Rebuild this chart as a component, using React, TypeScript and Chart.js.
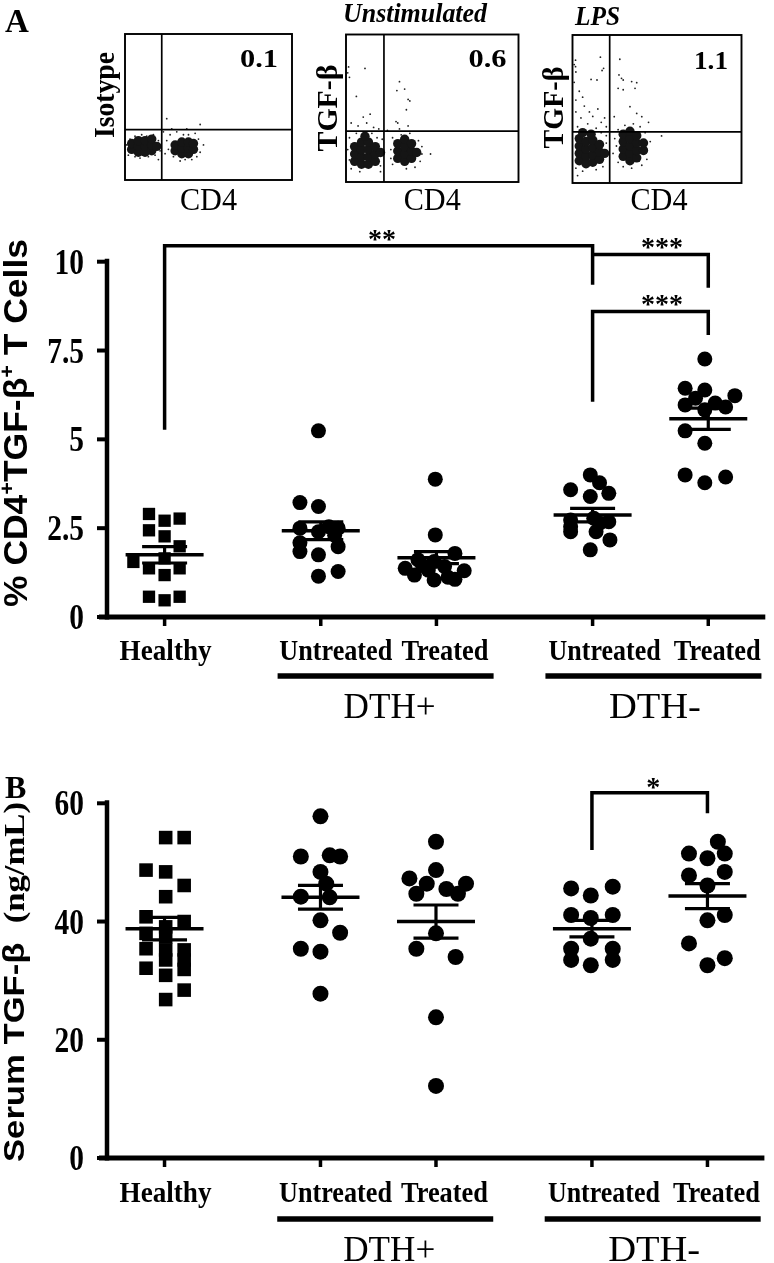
import React, { useEffect, useRef } from 'react';
import { Chart, registerables } from 'chart.js';

Chart.register(...registerables);

const W = 774;
const H = 1263;
const SERIF = '"Liberation Serif", "Times New Roman", serif';
const SANS = '"Liberation Sans", Arial, sans-serif';

// ---------------- Panel A: flow cytometry dot plots (CD4 vs TGF-beta, 0-100 display units) ----------------
const flowTitles = ['', 'Unstimulated', 'LPS'];
const flowYLabels = ['Isotype', 'TGF-β', 'TGF-β'];
const flowPercents = ['0.1', '0.6', '1.1'];
const flowGateX = 22;
const flowGateY = 34.5;

const isoCore: number[][] = [[4,21],[4,25],[8,19],[8,23],[8,27],[12,19],[12,23],[12,27],[16,20],[16,24],[16,28],[19,23],[30,20],[30,24],[34,18],[34,22],[34,26],[38,18],[38,22],[38,26],[41,21],[41,25]];
const isoEvents: number[][] = [[2,17],[1,24],[3,28],[6,16],[9,15],[14,16],[18,17],[20,27],[21,20],[6,30],[13,30],[25,27],[26,21],[27,31],[29,16],[31,33],[35,31],[38,31],[42,32],[44,28],[45,19],[40,14],[33,13],[28,35],[23,33],[25,42],[37,35],[45,38],[47,24],[20,14],[10,31],[2,20],[17,31],[24,18],[43,16],[36,14]];

const unstimCore: number[][] = [[5,14],[5,19],[5,24],[9,12],[9,17],[9,22],[9,27],[13,12],[13,17],[13,22],[13,27],[17,14],[17,19],[17,24],[20,20],[11,31],[30,16],[30,21],[30,26],[34,14],[34,19],[34,24],[34,29],[38,16],[38,21],[38,26],[41,20]];
const unstimEvents: number[][] = [[2,30],[3,9],[6,33],[15,33],[18,30],[20,11],[21,29],[7,38],[12,40],[16,37],[10,44],[3,40],[14,46],[19,36],[1,22],[11,77],[6,58],[1.5,78],[2,71],[1,74],[31,68],[34,63],[29.5,62],[36,56],[37,55],[35,49],[30,40],[49,19],[27,12],[27,30],[32,32],[37,33],[42,28],[43,14],[40,10],[26,22],[44,24],[35,9],[31,36],[36,38],[29,41],[24,35],[2,15],[20,7],[8,7],[44,19],[26,16]];

const lpsCore: number[][] = [[4,15],[4,20],[4,25],[4,30],[8,13],[8,18],[8,23],[8,28],[12,14],[12,19],[12,24],[12,29],[16,16],[16,21],[16,26],[19,20],[6,34],[11,33],[30,18],[30,23],[30,28],[30,33],[34,15],[34,20],[34,25],[34,30],[34,35],[38,17],[38,22],[38,27],[38,32],[42,22],[42,27]];
const lpsEvents: number[][] = [[2,10],[6,8],[14,9],[18,11],[20,27],[20,32],[17,34],[14,37],[3,38],[9,40],[5,44],[12,45],[17,41],[2,48],[7,52],[2,56],[4,62],[1,68],[2,75],[1,80],[10,48],[15,50],[19,44],[6,58],[11,70],[20,38],[3,5],[16.5,85],[18.4,77.5],[17.5,76],[14.5,69.6],[1.8,83],[1.8,78.6],[28,83.6],[27.5,73],[29,70.7],[30,69.6],[38,67.8],[35,68.5],[37,64],[27,64],[30,63],[34,51.6],[38,47],[24.7,44.8],[41,44.8],[52.7,31.8],[26,25],[27,14],[27,36],[31,39],[36,40],[40,38],[43,34],[44,16],[41,12],[35,10],[30,11],[25,30],[46,28],[24,20],[45,41]];

// ---------------- Shared categories ----------------
const categoryLabels = ['Healthy', 'Untreated', 'Treated', 'Untreated', 'Treated'];
const groupLabels = ['DTH+', 'DTH-'];
const groupMembers = [[1, 2], [3, 4]];
const groupX = [0, 1.35, 2.35, 3.7, 4.7];

// ---------------- Panel A: % CD4+TGF-b+ T cells ----------------
const yTicksA = [0, 2.5, 5, 7.5, 10];
const yTickLabelsA = ['0', '2.5', '5', '7.5', '10'];
const aHealthy = [2.90, 2.71, 2.77, 2.44, 2.27, 1.99, 1.55, 1.37, 1.18, 1.37, 0.57, 0.47, 0.57, 1.65];
const aHealthyJit = [-0.135, 0, 0.13, -0.135, 0, 0.13, -0.27, -0.135, 0, 0.13, -0.135, 0, 0.13, 0];
const aPosUntreated = [5.24, 3.22, 3.11, 2.50, 2.40, 2.54, 2.50, 2.09, 1.84, 1.98, 1.75, 1.15, 1.28, 2.30];
const aPosUntreatedJit = [-0.02, -0.18, -0.02, -0.18, -0.02, 0.07, 0.15, -0.18, -0.18, 0.15, -0.02, -0.02, 0.15, 0.12];
const aPosTreated = [3.88, 2.31, 1.37, 1.18, 1.04, 1.06, 1.30, 1.79, 1.61, 1.56, 1.42, 1.32, 1.12, 1.45];
const aPosTreatedJit = [-0.01, -0.01, -0.27, -0.19, -0.02, 0.16, 0.24, 0.16, -0.16, -0.02, 0.07, -0.07, 0.1, -0.12];
const aNegUntreated = [4.0, 3.78, 3.58, 3.39, 3.48, 2.73, 2.40, 2.78, 2.64, 2.68, 2.40, 2.17, 1.89, 2.54];
const aNegUntreatedJit = [-0.02, 0.06, -0.19, -0.02, 0.14, -0.19, -0.19, 0.01, 0.06, 0.14, 0.03, 0.15, -0.02, -0.19];
const aNegTreated = [7.26, 6.44, 6.39, 6.23, 6.16, 5.97, 6.02, 5.91, 5.83, 5.24, 4.89, 4.0, 3.78, 3.94];
const aNegTreatedJit = [-0.03, -0.2, -0.03, 0.23, -0.11, -0.2, 0.06, 0.15, -0.03, -0.2, -0.03, -0.2, -0.03, 0.15];
const aMeans = [1.75, 2.43, 1.67, 2.87, 5.58];
const aSems = [0.23, 0.25, 0.17, 0.19, 0.30];
const aBrackets = [
  { from: 0, to: 3, level: 10.45, dropFrom: 5.27, dropTo: 9.35, label: '**', labelX: 1.88, labelY: 10.76 },
  { from: 3, to: 4, level: 10.2, dropFrom: 10.2, dropTo: 9.27, label: '***', labelX: 4.3, labelY: 10.54 },
  { from: 3, to: 4, level: 8.6, dropFrom: 6.06, dropTo: 7.94, label: '***', labelX: 4.3, labelY: 8.93 },
];

// ---------------- Panel B: serum TGF-b (ng/mL) ----------------
const yTicksB = [0, 20, 40, 60];
const yTickLabelsB = ['0', '20', '40', '60'];
const bHealthy = [54.2, 54.2, 48.7, 48.4, 46.1, 44.2, 40.8, 40.0, 39.1, 38.0, 37.4, 35.4, 35.2, 35.2, 33.5, 33.5, 32.1, 31.9, 30.9, 28.4, 26.8];
const bHealthyJit = [0.01, 0.17, -0.16, 0.01, 0.17, 0.01, -0.16, 0.17, 0.01, -0.16, 0.01, -0.16, 0.01, 0.17, 0.01, 0.17, -0.16, 0.17, 0.01, 0.17, 0.01];
const bPosUntreated = [57.8, 51.0, 51.2, 51.0, 48.4, 46.4, 44.2, 44.1, 40.2, 38.1, 35.4, 34.9, 27.8];
const bPosUntreatedJit = [0, -0.17, 0.08, 0.17, 0, 0.05, -0.17, 0.08, 0, 0.17, -0.17, 0, 0];
const bPosTreated = [53.5, 48.7, 47.3, 46.4, 46.4, 44.7, 44.7, 45.5, 38.0, 35.4, 34.0, 23.8, 12.2];
const bPosTreatedJit = [0, 0, -0.23, 0.26, -0.08, -0.17, 0.19, 0.09, 0, -0.17, 0.17, 0, 0];
const bNegUntreated = [45.6, 45.9, 44.4, 41.1, 41.1, 40.6, 37.1, 35.4, 35.4, 33.5, 33.5, 32.6];
const bNegUntreatedJit = [-0.18, 0.18, -0.01, -0.18, 0.18, -0.01, -0.01, -0.18, 0.18, -0.18, 0.18, -0.01];
const bNegTreated = [53.5, 51.5, 51.5, 50.7, 48.4, 47.8, 46.1, 41.1, 40.2, 36.3, 33.8, 32.6];
const bNegTreatedJit = [0.09, -0.16, 0.15, 0, 0.15, -0.16, 0, 0.15, 0, -0.16, 0.15, 0];
const bMeans = [38.8, 44.1, 40.0, 38.8, 44.3];
const bSems = [1.9, 2.0, 2.8, 1.4, 2.1];
const bBrackets = [
  { from: 3, to: 4, level: 61.8, dropFrom: 52.1, dropTo: 58.3, label: '*', labelX: 4.23, labelY: 63.4 },
];

// ---------------- drawing helpers ----------------
const X_MIN = -0.498;
const X_MAX = 5.193;
const catLabelShift = [1, 15, 8.5, 12, 9];
const catLabelWidth = [92, 113, 87, 112, 87];
const groupBarShift = [7, 3];
const groupLabelShift = [11, 4.5];

function line(ctx: CanvasRenderingContext2D, x1: number, y1: number, x2: number, y2: number, w: number) {
  ctx.beginPath();
  ctx.lineWidth = w;
  ctx.moveTo(x1, y1);
  ctx.lineTo(x2, y2);
  ctx.stroke();
}

function txt(ctx: CanvasRenderingContext2D, s: string, x: number, y: number, font: string,
  align: CanvasTextAlign = 'left', fit?: number, rot = false, sx = 1) {
  ctx.save();
  ctx.font = font;
  ctx.fillStyle = '#000';
  ctx.textBaseline = 'alphabetic';
  const w = ctx.measureText(s).width;
  const k = fit ? fit / w : sx;
  ctx.translate(x, y);
  if (rot) ctx.rotate(-Math.PI / 2);
  ctx.scale(k, 1);
  ctx.textAlign = align;
  ctx.fillText(s, 0, 0);
  ctx.restore();
}

type Seg = { t: string; font: string; rise?: number };
function rich(ctx: CanvasRenderingContext2D, segs: Seg[], x: number, y: number, fit: number, rot: boolean) {
  ctx.save();
  ctx.fillStyle = '#000';
  ctx.textBaseline = 'alphabetic';
  ctx.textAlign = 'left';
  const ws = segs.map((s) => { ctx.font = s.font; return ctx.measureText(s.t).width; });
  const total = ws.reduce((a, b) => a + b, 0);
  const k = fit / total;
  ctx.translate(x, y);
  if (rot) ctx.rotate(-Math.PI / 2);
  ctx.scale(k, 1);
  let cx = -total / 2;
  segs.forEach((s, i) => {
    ctx.font = s.font;
    ctx.fillText(s.t, cx, -(s.rise || 0));
    cx += ws[i];
  });
  ctx.restore();
}

type Bracket = { from: number; to: number; level: number; dropFrom: number; dropTo: number; label: string; labelX: number; labelY: number };
type PanelSpec = {
  id: string;
  values: number[][];
  jitter: number[][];
  means: number[];
  sems: number[];
  brackets: Bracket[];
  yMax: number;
  yTicks: number[];
  yTickLabels: string[];
  padding: { left: number; right: number; top: number; bottom: number };
  rectR: number;
  circleR: number;
  dy: number[];
  letter: { t: string; x: number; y: number; size: number };
  title: Seg[];
  titleX: number;
  titleY: number;
  titleLen: number;
};

function panelPlugin(p: PanelSpec) {
  return {
    id: 'panel-' + p.id,
    afterDatasetsDraw(chart: any) {
      const ctx: CanvasRenderingContext2D = chart.ctx;
      const a = chart.chartArea;
      const X = (v: number) => chart.scales.x.getPixelForValue(v);
      const Y = (v: number) => chart.scales.y.getPixelForValue(v);
      ctx.save();
      ctx.strokeStyle = '#000';
      ctx.fillStyle = '#000';
      ctx.lineCap = 'butt';
      // axes
      line(ctx, a.left, a.top - 3, a.left, a.bottom + 2.5, 4.5);
      line(ctx, a.left - 8, a.bottom, a.right, a.bottom, 5);
      p.yTicks.forEach((v, i) => {
        const py = Y(v);
        line(ctx, a.left - 10, py, a.left, py, 4);
        txt(ctx, p.yTickLabels[i], a.left - 23, py + 12, `bold 35px ${SERIF}`, 'right', undefined, false, 0.84);
      });
      groupX.forEach((g) => line(ctx, X(g), a.bottom, X(g), a.bottom + 9, 3.5));
      categoryLabels.forEach((s, i) =>
        txt(ctx, s, X(groupX[i]) + catLabelShift[i], a.bottom + p.dy[0], `bold 29px ${SERIF}`, 'center', catLabelWidth[i]));
      groupMembers.forEach(([i0, i1], k) => {
        const mid = (X(groupX[i0]) + X(groupX[i1])) / 2;
        line(ctx, mid + groupBarShift[k] - 108, a.bottom + p.dy[1], mid + groupBarShift[k] + 108, a.bottom + p.dy[1], 5.5);
        txt(ctx, groupLabels[k], mid + groupLabelShift[k], a.bottom + p.dy[2], `36px ${SERIF}`, 'center', 92);
      });
      // mean +/- SEM
      p.means.forEach((m, i) => {
        const px = X(groupX[i]);
        const hi = Y(m + p.sems[i]);
        const lo = Y(m - p.sems[i]);
        line(ctx, px - 39, Y(m), px + 39, Y(m), 3.5);
        line(ctx, px - 22.5, hi, px + 22.5, hi, 3.2);
        line(ctx, px - 22.5, lo, px + 22.5, lo, 3.2);
        line(ctx, px, hi, px, lo, 3.2);
      });
      // significance brackets
      p.brackets.forEach((b) => {
        const xa = X(groupX[b.from]);
        const xb = X(groupX[b.to]);
        ctx.beginPath();
        ctx.lineWidth = 3.5;
        ctx.lineJoin = 'miter';
        ctx.moveTo(xa, Y(b.dropFrom));
        ctx.lineTo(xa, Y(b.level));
        ctx.lineTo(xb, Y(b.level));
        ctx.lineTo(xb, Y(b.dropTo));
        ctx.stroke();
        txt(ctx, b.label, X(b.labelX), Y(b.labelY) + 13, `bold 28px ${SERIF}`, 'center');
      });
      // axis title and panel letter
      rich(ctx, p.title, p.titleX, p.titleY, p.titleLen, true);
      txt(ctx, p.letter.t, p.letter.x, p.letter.y, `bold ${p.letter.size}px ${SERIF}`, 'left');
      ctx.restore();
    },
  };
}

function panelConfig(p: PanelSpec) {
  const datasets = p.values.map((vals, gi) => ({
    data: vals.map((v, j) => ({ x: groupX[gi] + p.jitter[gi][j], y: v })),
    pointStyle: gi === 0 ? 'rect' : 'circle',
    pointRadius: gi === 0 ? p.rectR : p.circleR,
    backgroundColor: '#000',
    pointBackgroundColor: '#000',
    borderColor: '#000',
    pointBorderWidth: 0,
    borderWidth: 0,
    showLine: false,
    clip: false,
  }));
  return {
    type: 'scatter',
    data: { datasets },
    options: {
      responsive: false,
      animation: false,
      devicePixelRatio: 1,
      events: [],
      layout: { padding: p.padding },
      scales: {
        x: { type: 'linear', display: false, min: X_MIN, max: X_MAX },
        y: { type: 'linear', display: false, min: 0, max: p.yMax },
      },
      plugins: { legend: { display: false }, tooltip: { enabled: false } },
    },
    plugins: [panelPlugin(p)],
  };
}

type FlowSpec = {
  id: number;
  core: number[][];
  events: number[][];
  padding: { left: number; right: number; top: number; bottom: number };
  pct: { inset: number; y: number; w: number };
  ylab: { dx: number; y: number; len: number };
  title?: { x: number; y: number; w: number };
};

function flowPlugin(f: FlowSpec) {
  return {
    id: 'flow-' + f.id,
    afterDatasetsDraw(chart: any) {
      const ctx: CanvasRenderingContext2D = chart.ctx;
      const a = chart.chartArea;
      const X = (v: number) => chart.scales.x.getPixelForValue(v);
      const Y = (v: number) => chart.scales.y.getPixelForValue(v);
      ctx.save();
      ctx.strokeStyle = '#000';
      ctx.lineWidth = 1.9;
      ctx.strokeRect(a.left, a.top, a.right - a.left, a.bottom - a.top);
      line(ctx, X(flowGateX), a.top, X(flowGateX), a.bottom, 1.7);
      line(ctx, a.left, Y(flowGateY), a.right, Y(flowGateY), 1.7);
      txt(ctx, flowPercents[f.id], a.right - f.pct.inset, f.pct.y, `bold 25px ${SERIF}`, 'right', f.pct.w);
      txt(ctx, flowYLabels[f.id], a.left - f.ylab.dx, f.ylab.y, `bold 30px ${SERIF}`, 'center', f.ylab.len, true);
      if (f.title) txt(ctx, flowTitles[f.id], f.title.x, f.title.y, `italic bold 27px ${SERIF}`, 'left', f.title.w);
      txt(ctx, 'CD4', (a.left + a.right) / 2 + (f.id === 2 ? 2 : 0), 210, `32px ${SERIF}`, 'center', 57);
      ctx.restore();
    },
  };
}

function flowConfig(f: FlowSpec) {
  const toPts = (arr: number[][]) => arr.map(([x, y]) => ({ x, y }));
  return {
    type: 'scatter',
    data: {
      datasets: [
        { data: toPts(f.core), pointRadius: 4.7, pointStyle: 'circle', backgroundColor: '#151515', pointBackgroundColor: '#151515', pointBorderWidth: 0, borderWidth: 0, clip: false },
        { data: toPts(f.events), pointRadius: 0.9, pointStyle: 'circle', backgroundColor: '#222', pointBackgroundColor: '#222', pointBorderWidth: 0, borderWidth: 0, clip: false },
      ],
    },
    options: {
      responsive: false,
      animation: false,
      devicePixelRatio: 1,
      events: [],
      layout: { padding: f.padding },
      scales: {
        x: { type: 'linear', display: false, min: 0, max: 100 },
        y: { type: 'linear', display: false, min: 0, max: 100 },
      },
      plugins: { legend: { display: false }, tooltip: { enabled: false } },
    },
    plugins: [flowPlugin(f)],
  };
}

const flowSpecs: FlowSpec[] = [
  { id: 0, core: isoCore, events: isoEvents, padding: { left: 125, top: 34, right: W - 292, bottom: H - 180 },
    pct: { inset: 14, y: 67, w: 38 }, ylab: { dx: 11, y: 95, len: 86 } },
  { id: 1, core: unstimCore, events: unstimEvents, padding: { left: 346, top: 34.5, right: W - 518.5, bottom: H - 182 },
    pct: { inset: 12, y: 67, w: 38 }, ylab: { dx: 9, y: 108, len: 87 }, title: { x: 343, y: 21.5, w: 144 } },
  { id: 2, core: lpsCore, events: lpsEvents, padding: { left: 572.5, top: 35, right: W - 741.5, bottom: H - 183 },
    pct: { inset: 13.5, y: 68.5, w: 34 }, ylab: { dx: 9.5, y: 107.5, len: 82 }, title: { x: 575, y: 25, w: 45 } },
];

const panelA: PanelSpec = {
  id: 'A',
  values: [aHealthy, aPosUntreated, aPosTreated, aNegUntreated, aNegTreated],
  jitter: [aHealthyJit, aPosUntreatedJit, aPosTreatedJit, aNegUntreatedJit, aNegTreatedJit],
  means: aMeans,
  sems: aSems,
  brackets: aBrackets,
  yMax: 10,
  yTicks: yTicksA,
  yTickLabels: yTickLabelsA,
  padding: { left: 107, right: 4, top: 261.7, bottom: H - 617 },
  rectR: 8.7,
  circleR: 7.5,
  dy: [43, 59, 101],
  letter: { t: 'A', x: 5, y: 32, size: 33 },
  title: [
    { t: '% CD4', font: `bold 33px ${SANS}` },
    { t: '+', font: `bold 20px ${SANS}`, rise: 13 },
    { t: 'TGF-β', font: `bold 33px ${SANS}` },
    { t: '+', font: `bold 20px ${SANS}`, rise: 13 },
    { t: ' T Cells', font: `bold 33px ${SANS}` },
  ],
  titleX: 27,
  titleY: 423,
  titleLen: 368,
};

const panelB: PanelSpec = {
  id: 'B',
  values: [bHealthy, bPosUntreated, bPosTreated, bNegUntreated, bNegTreated],
  jitter: [bHealthyJit, bPosUntreatedJit, bPosTreatedJit, bNegUntreatedJit, bNegTreatedJit],
  means: bMeans,
  sems: bSems,
  brackets: bBrackets,
  yMax: 60,
  yTicks: yTicksB,
  yTickLabels: yTickLabelsB,
  padding: { left: 107, right: 4, top: 803.3, bottom: H - 1158 },
  rectR: 9.6,
  circleR: 8,
  dy: [44, 61, 103],
  letter: { t: 'B', x: 5, y: 798, size: 32 },
  title: [
    { t: 'Serum TGF-β', font: `bold 30px ${SANS}` },
    { t: '  ', font: `bold 30px ${SANS}` },
    { t: '(ng/mL)', font: `bold 30px ${SERIF}` },
  ],
  titleX: 24,
  titleY: 982,
  titleLen: 360,
};

function Layer({ make }: { make: () => any }) {
  const ref = useRef<HTMLCanvasElement>(null);
  useEffect(() => {
    const chart = new Chart(ref.current as HTMLCanvasElement, make());
    return () => chart.destroy();
  }, []);
  return (
    <canvas
      ref={ref}
      width={W}
      height={H}
      style={{ position: 'absolute', left: 0, top: 0, width: W, height: H, pointerEvents: 'none' }}
    />
  );
}

export default function App() {
  return (
    <div style={{ position: 'absolute', left: 0, top: 0, width: W, height: H, background: '#fff', overflow: 'hidden' }}>
      {flowSpecs.map((f) => (
        <Layer key={'flow' + f.id} make={() => flowConfig(f)} />
      ))}
      <Layer make={() => panelConfig(panelA)} />
      <Layer make={() => panelConfig(panelB)} />
    </div>
  );
}
